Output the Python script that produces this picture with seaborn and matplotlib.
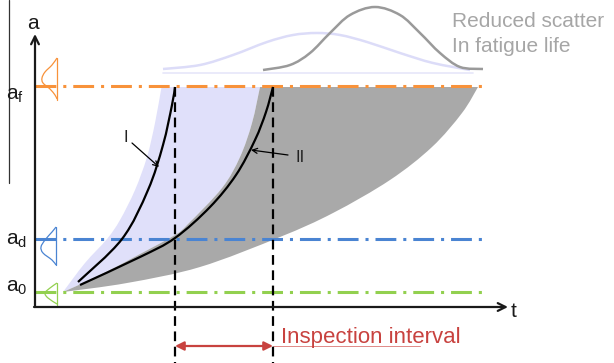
import matplotlib
matplotlib.use('Agg')
import matplotlib.pyplot as plt
import seaborn as sns
import pandas as pd
from matplotlib.path import Path
from matplotlib.patches import PathPatch

sns.set_theme(style='white')
plt.rcParams['font.family'] = ['Liberation Sans', 'DejaVu Sans']
plt.rcParams['lines.scale_dashes'] = False
plt.rcParams['mathtext.default'] = 'regular'

# ---------------- data (schematic coordinates) ----------------
threshold_labels = [r'$\mathregular{a_f}$', r'$\mathregular{a_d}$', r'$\mathregular{a_0}$']
threshold_y = [86, 239, 292]
threshold_colors = ['#f8923a', '#4a84d2', '#92d04f']
threshold_x = [35, 483]
label_baseline = [100, 245, 292]

# side distributions at the a-axis (vertical base x, points of bell)
dist_base = [(57, 58, 100), (56, 227, 265), (57, 283, 305)]
dist_orange = [(57, 58), (52, 65), (45, 72), (42, 78), (43, 83), (50, 89), (55, 95), (57, 99)]
dist_blue = [(56, 227), (52, 232), (45, 240), (41, 247), (43, 253), (52, 260), (56, 265)]
dist_green = [(57, 283), (50, 288), (45, 293), (48, 298), (57, 304)]

# crack growth curves I and II
curve_I = [(78, 282), (122, 239), (148, 190), (163, 145), (172, 105), (175, 87)]
curve_II = [(80, 285), (140, 257), (175, 238), (210, 207), (236, 175), (255, 140),
            (266, 112), (273, 87)]

# scatter bands
band_I_left = [(63, 292), (85, 263), (107, 239), (120, 220), (135, 190), (147, 157),
               (155, 123), (161, 90), (162, 87)]
band_II_upper = [(260, 87), (252, 123), (240, 157), (222, 188), (188, 224),
                 (175, 235), (140, 254), (100, 275), (63, 292)]
band_II_lower = [(63, 292), (127, 283), (200, 267), (280, 237), (333, 213), (390, 180),
                 (432, 147), (462, 113), (478, 87)]

# fatigue-life distributions on top
life_dist_wide = [(163, 69), (200, 65), (233, 55), (267, 42), (293, 35), (317, 33),
                  (340, 35), (367, 42), (400, 53), (433, 63), (470, 70)]
life_dist_narrow = [(263, 70), (290, 65), (310, 53), (330, 33), (350, 15), (375, 7),
                    (400, 15), (420, 33), (440, 53), (460, 67), (483, 69)]

inspection_t = [175, 273]
fail_level = 87

# ---------------- helpers ----------------
def smooth_codes(pts):
    """Catmull-Rom through the read points, drawn as cubic Bezier segments."""
    verts = [pts[0]]
    codes = [Path.MOVETO]
    n = len(pts)
    for i in range(n - 1):
        p0 = pts[i - 1] if i > 0 else pts[i]
        p1 = pts[i]
        p2 = pts[i + 1]
        p3 = pts[i + 2] if i + 2 < n else pts[i + 1]
        c1 = (p1[0] + (p2[0] - p0[0]) / 6, p1[1] + (p2[1] - p0[1]) / 6)
        c2 = (p2[0] - (p3[0] - p1[0]) / 6, p2[1] - (p3[1] - p1[1]) / 6)
        verts += [c1, c2, p2]
        codes += [Path.CURVE4] * 3
    return verts, codes


def smooth_line(ax, pts, **kw):
    v, c = smooth_codes(pts)
    ax.add_patch(PathPatch(Path(v, c), fill=False, **kw))


def region(ax, pieces, **kw):
    verts, codes = [], []
    for k, p in enumerate(pieces):
        v, c = smooth_codes(p)
        if k > 0:
            c = [Path.LINETO] + c[1:]
        verts += v
        codes += c
    verts.append(verts[0])
    codes.append(Path.CLOSEPOLY)
    ax.add_patch(PathPatch(Path(verts, codes), **kw))


# ---------------- figure ----------------
fig = plt.figure(figsize=(6.14, 3.63), dpi=100)
ax = fig.add_axes([0, 0, 1, 1])
ax.set_xlim(0, 614)
ax.set_ylim(363, 0)
ax.axis('off')

lavender = '#e0e0fa'
grey = '#a9a9a9'

# band I (lavender): left edge up, top edge, down along band II upper edge
region(ax, [band_I_left, [(162, fail_level), (260, fail_level)], band_II_upper],
       facecolor=lavender, edgecolor='none', zorder=1)
# band II (grey)
region(ax, [band_II_lower, [(478, fail_level), (260, fail_level)], band_II_upper],
       facecolor=grey, edgecolor='none', zorder=2)

# top life distributions
ax.plot([163, 473], [73, 73], color='#e6e6fa', lw=1.2, zorder=2)
smooth_line(ax, life_dist_wide, edgecolor='#dcdcf8', lw=1.8, zorder=3)
smooth_line(ax, life_dist_narrow, edgecolor='#9a9a9a', lw=1.8, zorder=3)

# thresholds
for yv, col in zip(threshold_y, threshold_colors):
    df = pd.DataFrame({'t': threshold_x, 'a': [yv, yv]})
    sns.lineplot(data=df, x='t', y='a', ax=ax, color=col, lw=2.2,
                 dashes=False, zorder=5).lines[-1].set_dashes([15, 5, 2.2, 5])

# side distributions
for (bx, y0, y1), pts, col in zip(dist_base, [dist_orange, dist_blue, dist_green], threshold_colors):
    ax.plot([bx, bx], [y0, y1], color=col, lw=0.9, zorder=6)
    smooth_line(ax, pts, edgecolor=col, lw=0.9, zorder=6)

# inspection dashed verticals
for tv in inspection_t:
    df = pd.DataFrame({'t': [tv, tv], 'a': [fail_level, 363]})
    ln = sns.lineplot(data=df, x='t', y='a', ax=ax, color='black', lw=1.6,
                      estimator=None, sort=False, zorder=6).lines[-1]
    ln.set_dashes([7, 4])

# curves I and II
smooth_line(ax, curve_I, edgecolor='black', lw=1.6, zorder=7)
smooth_line(ax, curve_II, edgecolor='black', lw=1.6, zorder=7)

# axes with arrows
ax.annotate('', xy=(35, 34), xytext=(35, 307),
            arrowprops=dict(arrowstyle='->', lw=1.6, color='#1a1a1a',
                            shrinkA=0, shrinkB=0, mutation_scale=14), zorder=8)
ax.annotate('', xy=(508, 307), xytext=(34, 307),
            arrowprops=dict(arrowstyle='->', lw=1.6, color='#1a1a1a',
                            shrinkA=0, shrinkB=0, mutation_scale=14), zorder=8)
ax.plot([9, 9], [0, 183], color='#333333', lw=0.9)

ax.text(33, 29, 'a', fontsize=15, ha='center', va='baseline', color='#1a1a1a')
ax.text(511, 317, 't', fontsize=15, ha='left', va='baseline', color='#1a1a1a')
for lab, yb in zip(threshold_labels, label_baseline):
    ax.text(6, yb, lab, fontsize=15, ha='left', va='baseline', color='#1a1a1a')

# curve labels
ax.text(126, 142, 'I', fontsize=12, ha='center', va='baseline', color='#222222')
ax.annotate('', xy=(159, 167), xytext=(132, 143),
            arrowprops=dict(arrowstyle='->', lw=0.9, color='black', shrinkA=0, shrinkB=0,
                            mutation_scale=9))
ax.text(300, 162, 'II', fontsize=12, ha='center', va='baseline', color='#222222')
ax.annotate('', xy=(251, 150), xytext=(288, 155),
            arrowprops=dict(arrowstyle='->', lw=0.9, color='black', shrinkA=0, shrinkB=0,
                            mutation_scale=9))

# inspection interval
red = '#c8423f'
ax.annotate('', xy=(175, 346), xytext=(273, 346),
            arrowprops=dict(arrowstyle='<|-|>', lw=1.6, color=red, shrinkA=0, shrinkB=0,
                            mutation_scale=13), zorder=8)
ax.plot([273, 420], [345.5, 345.5], color='#e08a88', lw=0.7)
ax.text(281, 343, 'Inspection interval', fontsize=16, color=red, va='baseline')

# note
ax.text(452, 27, 'Reduced scatter', fontsize=15, color='#a6a6a6', va='baseline')
ax.text(452, 52, 'In fatigue life', fontsize=15, color='#a6a6a6', va='baseline')

fig.savefig('out.png', dpi=100)
